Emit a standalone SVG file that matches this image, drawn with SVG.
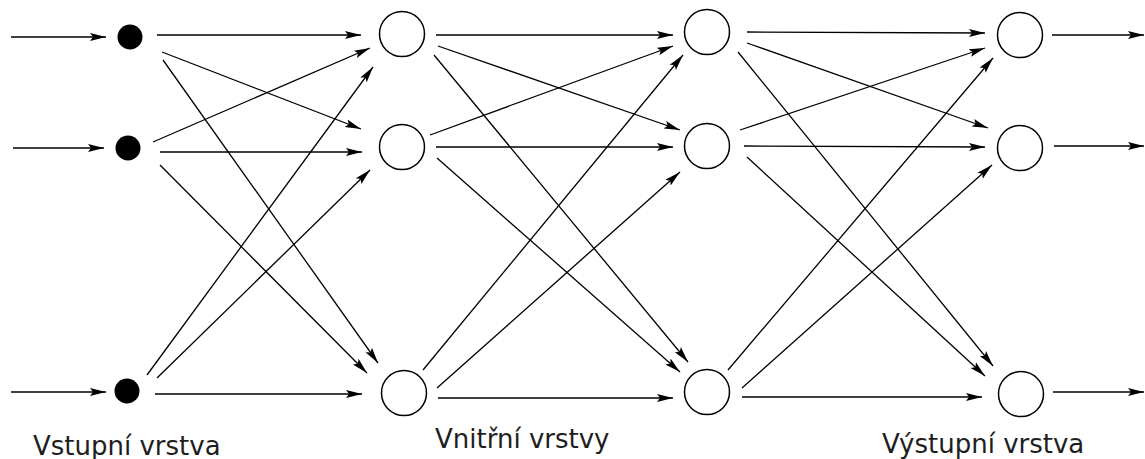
<svg xmlns="http://www.w3.org/2000/svg" width="1145" height="459" viewBox="0 0 1145 459">
  <style>
    .edge { stroke: #000; stroke-width: 1.3; fill: none; marker-end: url(#arrow); }
    .neuron { fill: #fff; stroke: #000; stroke-width: 1.5; }
    .input { fill: #000; stroke: none; }
    .label { font-family: "DejaVu Sans", "Liberation Sans", sans-serif; font-size: 26px; fill: #1e1e1e; }
  </style>
  <defs>
    <marker id="arrow" markerUnits="userSpaceOnUse" markerWidth="17" markerHeight="10" viewBox="0 0 17 10" refX="16" refY="5" orient="auto">
      <path d="M0,1 L16,5 L0,9 L3,5 Z" fill="#000"/>
    </marker>
  </defs>

  <rect width="1145" height="459" fill="#fff"/>

  <!-- connectors -->
  <g id="connectors">
    <!-- incoming signals -->
    <line class="edge" x1="11" y1="37" x2="106" y2="37"/>
    <line class="edge" x1="13" y1="148" x2="104" y2="148"/>
    <line class="edge" x1="11" y1="392" x2="106" y2="392"/>

    <!-- input layer to first hidden layer -->
    <line class="edge" x1="157" y1="35" x2="361" y2="35"/>
    <line class="edge" x1="162" y1="52" x2="361" y2="129"/>
    <line class="edge" x1="163" y1="60" x2="378" y2="363"/>
    <line class="edge" x1="153" y1="142" x2="370" y2="48"/>
    <line class="edge" x1="160" y1="152" x2="362" y2="152"/>
    <line class="edge" x1="160" y1="165" x2="367" y2="373"/>
    <line class="edge" x1="147" y1="375" x2="373" y2="67"/>
    <line class="edge" x1="157" y1="378" x2="370" y2="170"/>
    <line class="edge" x1="155" y1="394" x2="362" y2="394"/>

    <!-- first hidden layer to second hidden layer -->
    <line class="edge" x1="436" y1="35" x2="673" y2="35"/>
    <line class="edge" x1="438" y1="46" x2="680" y2="130"/>
    <line class="edge" x1="434" y1="55" x2="688" y2="362"/>
    <line class="edge" x1="430" y1="135" x2="673" y2="46"/>
    <line class="edge" x1="436" y1="147" x2="673" y2="147"/>
    <line class="edge" x1="437" y1="158" x2="680" y2="372"/>
    <line class="edge" x1="423" y1="370" x2="683" y2="55"/>
    <line class="edge" x1="437" y1="388" x2="680" y2="172"/>
    <line class="edge" x1="438" y1="398" x2="673" y2="398"/>

    <!-- second hidden layer to output layer -->
    <line class="edge" x1="747" y1="32" x2="985" y2="33"/>
    <line class="edge" x1="747" y1="43" x2="988" y2="128"/>
    <line class="edge" x1="738" y1="52" x2="993" y2="366"/>
    <line class="edge" x1="740" y1="130" x2="985" y2="48"/>
    <line class="edge" x1="744" y1="146" x2="985" y2="147"/>
    <line class="edge" x1="747" y1="157" x2="985" y2="376"/>
    <line class="edge" x1="728" y1="370" x2="993" y2="58"/>
    <line class="edge" x1="742" y1="388" x2="992" y2="165"/>
    <line class="edge" x1="742" y1="397" x2="982" y2="397"/>

    <!-- outgoing signals -->
    <line class="edge" x1="1052" y1="35" x2="1144" y2="35"/>
    <line class="edge" x1="1054" y1="146" x2="1144" y2="146"/>
    <line class="edge" x1="1053" y1="392" x2="1144" y2="392"/>
  </g>

  <!-- input layer -->
  <g id="in1"><circle class="input" cx="130" cy="37" r="12.5"/></g>
  <g id="in2"><circle class="input" cx="128" cy="148" r="12.5"/></g>
  <g id="in3"><circle class="input" cx="127" cy="391" r="12.5"/></g>

  <!-- first hidden layer -->
  <g id="h1a"><circle class="neuron" cx="402" cy="34" r="22.5"/></g>
  <g id="h1b"><circle class="neuron" cx="402" cy="147" r="22.5"/></g>
  <g id="h1c"><circle class="neuron" cx="404" cy="393" r="22.5"/></g>

  <!-- second hidden layer -->
  <g id="h2a"><circle class="neuron" cx="707" cy="32" r="22.5"/></g>
  <g id="h2b"><circle class="neuron" cx="707" cy="146" r="22.5"/></g>
  <g id="h2c"><circle class="neuron" cx="707" cy="392" r="22.5"/></g>

  <!-- output layer -->
  <g id="out1"><circle class="neuron" cx="1020" cy="35" r="22.5"/></g>
  <g id="out2"><circle class="neuron" cx="1020" cy="148" r="22.5"/></g>
  <g id="out3"><circle class="neuron" cx="1021" cy="394" r="22.5"/></g>

  <!-- layer captions -->
  <g id="labels">
    <text class="label" x="33" y="455">Vstupní vrstva</text>
    <text class="label" x="435" y="448">Vnitřní vrstvy</text>
    <text class="label" x="882" y="453">Výstupní vrstva</text>
  </g>
</svg>
